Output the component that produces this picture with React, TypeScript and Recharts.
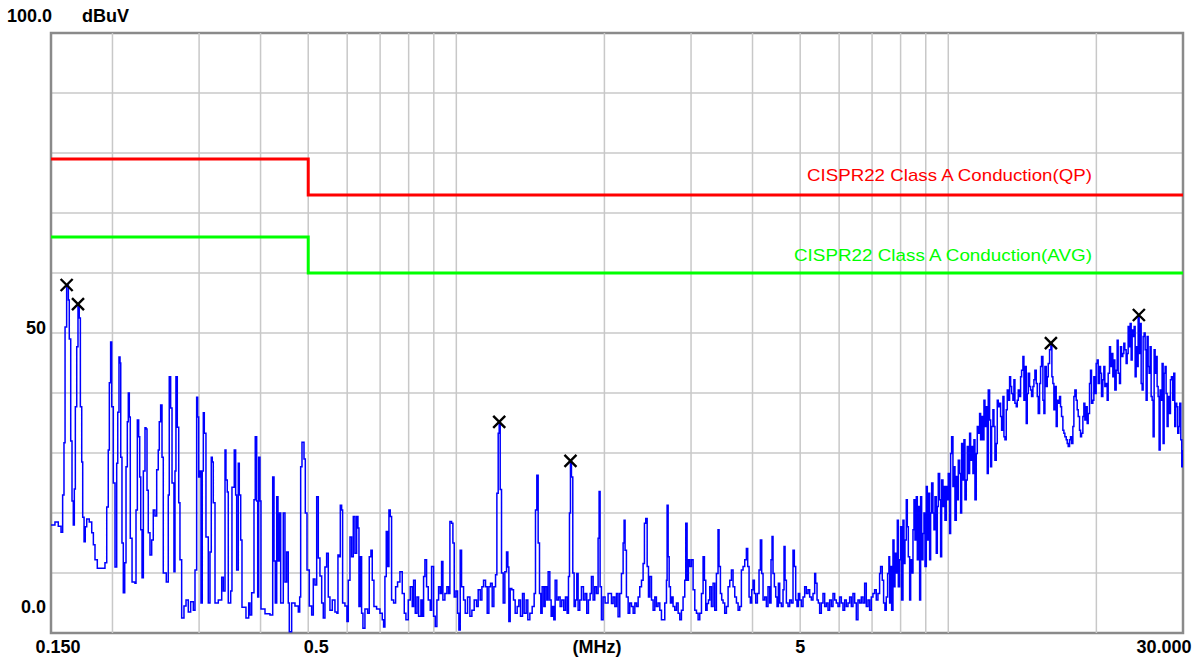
import React from 'react';
import { ComposedChart, Line, XAxis, YAxis, CartesianGrid, ReferenceLine, ReferenceArea } from 'recharts';

type Pt = [number, number];

// measured spectrum, frequency in MHz / level in dBuV
const traceA: Pt[] = [
  [0.1500, 18.0], [0.1528, 18.5], [0.1552, 17.8], [0.1572, 16.8], [0.1584, 23.0], [0.1594, 31.7], [0.1602, 51.0], [0.1614, 58.0],
  [0.1627, 55.5], [0.1634, 49.0], [0.1645, 32.0], [0.1655, 22.0], [0.1665, 18.0], [0.1673, 24.0], [0.1681, 37.7], [0.1692, 47.7],
  [0.1702, 54.8], [0.1712, 52.5], [0.1721, 37.7], [0.1732, 28.5], [0.1740, 19.3], [0.1751, 15.2], [0.1761, 17.7], [0.1773, 19.0],
  [0.1794, 18.5], [0.1815, 16.7], [0.1829, 14.7], [0.1843, 12.2], [0.1863, 10.8], [0.1911, 10.8], [0.1931, 11.7], [0.1947, 21.0],
  [0.1961, 30.5], [0.1971, 41.7], [0.1983, 48.5], [0.1993, 37.7], [0.2008, 25.0], [0.2024, 11.0], [0.2040, 28.3], [0.2050, 36.8],
  [0.2062, 46.0], [0.2072, 45.0], [0.2079, 29.3], [0.2091, 15.0], [0.2104, 6.7], [0.2118, 11.7], [0.2131, 27.7], [0.2144, 35.2],
  [0.2154, 40.0], [0.2164, 36.0], [0.2174, 15.8], [0.2192, 8.5], [0.2222, 8.3], [0.2233, 20.5], [0.2247, 35.5], [0.2261, 32.7],
  [0.2272, 26.0], [0.2283, 17.2], [0.2297, 9.2], [0.2311, 27.0], [0.2329, 34.2], [0.2340, 34.0], [0.2351, 23.8], [0.2365, 16.7],
  [0.2384, 13.0], [0.2403, 15.5], [0.2421, 20.5], [0.2440, 19.5], [0.2460, 27.2], [0.2478, 30.5], [0.2490, 35.2], [0.2506, 38.0],
  [0.2522, 29.3], [0.2537, 10.0], [0.2573, 8.5], [0.2597, 23.0], [0.2609, 42.7], [0.2626, 37.5], [0.2643, 25.0], [0.2667, 10.2],
  [0.2680, 27.0], [0.2692, 42.7], [0.2709, 34.3], [0.2727, 21.7], [0.2743, 12.2], [0.2765, 2.5], [0.2795, 4.5], [0.2822, 5.5],
  [0.2852, 3.5], [0.2884, 5.2], [0.2920, 3.8], [0.2943, 10.5], [0.2966, 39.3], [0.2980, 36.0], [0.2994, 26.0], [0.3012, 27.0],
  [0.3027, 5.0], [0.3045, 27.0], [0.3060, 36.7], [0.3074, 33.3], [0.3098, 16.0], [0.3132, 5.0], [0.3157, 13.5], [0.3176, 29.3],
  [0.3191, 28.5], [0.3206, 21.7], [0.3232, 5.0], [0.3282, 5.5], [0.3335, 9.3], [0.3360, 7.0], [0.3387, 30.5], [0.3402, 25.5],
  [0.3423, 23.5], [0.3439, 5.0], [0.3478, 7.0], [0.3499, 24.3], [0.3537, 30.5], [0.3560, 23.0], [0.3577, 10.5], [0.3604, 28.3],
  [0.3621, 23.0], [0.3645, 15.5], [0.3667, 4.3], [0.3736, 2.5], [0.3784, 5.0], [0.3807, 3.0], [0.3837, 6.7], [0.3879, 22.2],
  [0.3902, 32.7], [0.3928, 22.0], [0.3947, 6.0], [0.3965, 29.3], [0.3989, 22.0], [0.4008, 4.0], [0.4084, 3.2], [0.4180, 3.0],
  [0.4234, 26.0], [0.4260, 12.0], [0.4285, 5.0], [0.4314, 22.7], [0.4340, 12.0], [0.4367, 20.0], [0.4395, 5.0], [0.4449, 20.0],
  [0.4484, 8.5], [0.4520, 13.5], [0.4554, 5.0], [0.4576, 0.2], [0.4627, 5.0], [0.4699, 4.5], [0.4773, 3.5], [0.4804, 6.0],
  [0.4826, 27.7], [0.4856, 31.8], [0.4902, 29.0], [0.4932, 20.0], [0.4971, 10.5], [0.5025, 4.5], [0.5081, 3.0], [0.5120, 9.0],
  [0.5160, 8.0], [0.5202, 22.7], [0.5241, 12.5], [0.5282, 9.5], [0.5325, 5.0], [0.5365, 2.5],
];

const traceB: Pt[] = [
  [0.5407, 11.0], [0.5450, 13.3], [0.5492, 6.0], [0.5535, 3.8], [0.5596, 5.5], [0.5666, 3.5], [0.5719, 3.3], [0.5746, 13.0],
  [0.5782, 12.7], [0.5810, 21.3], [0.5846, 20.5], [0.5873, 5.0], [0.5937, 4.5], [0.5993, 1.9], [0.6031, 8.8], [0.6079, 16.0],
  [0.6126, 12.7], [0.6174, 19.4], [0.6222, 13.3], [0.6271, 19.4], [0.6310, 17.5], [0.6340, 4.4], [0.6379, 12.7], [0.6419, 3.3],
  [0.6459, 0.8], [0.6520, 4.0], [0.6602, 3.3], [0.6653, 12.7], [0.6705, 13.8], [0.6747, 8.8], [0.6800, 4.4], [0.6886, 4.0],
  [0.6994, 3.3], [0.7071, 2.2], [0.7115, 1.0], [0.7159, 9.4], [0.7204, 16.9], [0.7249, 11.1], [0.7295, 20.5], [0.7340, 19.4],
  [0.7386, 5.5], [0.7456, 5.0], [0.7526, 7.7], [0.7596, 8.5], [0.7680, 10.2], [0.7764, 6.6], [0.7838, 3.3], [0.7899, 2.2],
  [0.7985, 5.5], [0.8061, 7.7], [0.8136, 4.4], [0.8187, 8.8], [0.8251, 3.3], [0.8316, 6.0], [0.8381, 2.8], [0.8473, 5.5],
  [0.8526, 2.8], [0.8579, 9.4], [0.8633, 12.2], [0.8700, 7.7], [0.8768, 5.5], [0.8851, 3.8], [0.8906, 11.1], [0.8990, 2.8],
  [0.9060, 1.1], [0.9131, 5.5], [0.9203, 7.7], [0.9275, 6.6], [0.9333, 11.9], [0.9391, 5.5], [0.9479, 6.6], [0.9568, 7.7],
  [0.9643, 6.6], [0.9704, 18.6], [0.9780, 18.3], [0.9841, 15.0], [0.9902, 6.0], [0.9980, 7.0], [1.0058, 3.3], [1.0121, 0.5],
  [1.0184, 13.8], [1.0248, 7.7], [1.0345, 5.5], [1.0425, 3.3], [1.0539, 6.0], [1.0655, 2.8], [1.0755, 3.8], [1.0873, 5.5],
  [1.0993, 4.4], [1.1078, 7.2], [1.1183, 5.5], [1.1271, 7.7], [1.1359, 8.8], [1.1465, 7.7], [1.1555, 3.3], [1.1645, 7.7],
  [1.1736, 8.3], [1.1828, 4.4], [1.1921, 7.7], [1.2015, 9.7], [1.2090, 23.3], [1.2165, 33.3], [1.2222, 35.2], [1.2280, 23.9],
  [1.2356, 10.0], [1.2453, 5.0], [1.2550, 10.2], [1.2649, 13.5], [1.2728, 11.0], [1.2787, 1.9], [1.2867, 7.4], [1.2967, 7.2],
  [1.3069, 5.5], [1.3171, 3.3], [1.3295, 4.4], [1.3399, 5.5], [1.3504, 2.8], [1.3631, 6.6], [1.3737, 3.3], [1.3867, 5.5],
  [1.3975, 2.2], [1.4107, 3.3], [1.4262, 4.4], [1.4395, 6.6], [1.4485, 20.5], [1.4576, 26.3], [1.4667, 15.0], [1.4759, 6.6],
  [1.4851, 3.3], [1.4944, 7.7], [1.5061, 4.4], [1.5155, 7.7], [1.5274, 5.5], [1.5369, 10.2], [1.5490, 5.5], [1.5586, 2.8],
  [1.5684, 4.4], [1.5782, 2.2], [1.5881, 8.8], [1.6005, 5.5], [1.6129, 6.0], [1.6256, 4.4], [1.6383, 5.5], [1.6536, 3.8],
  [1.6666, 6.0], [1.6797, 3.3], [1.6902, 9.4], [1.6982, 20.0], [1.7061, 28.7], [1.7140, 26.0], [1.7248, 10.0], [1.7356, 4.4],
  [1.7465, 5.5], [1.7574, 9.9], [1.7683, 3.8], [1.7822, 5.5], [1.7961, 7.7], [1.8130, 5.5], [1.8272, 6.6], [1.8415, 3.3],
  [1.8559, 5.5], [1.8705, 6.6], [1.8821, 9.4], [1.8969, 5.5], [1.9117, 7.7], [1.9267, 6.6], [1.9417, 15.8], [1.9509, 23.6],
  [1.9600, 7.7], [1.9722, 2.2], [1.9877, 6.0], [2.0063, 5.0], [2.0346, 6.6],
];

const traceC: Pt[] = [
  [2.051, 6.6], [2.067, 4.9], [2.083, 6.0], [2.100, 4.4], [2.116, 6.6], [2.132, 2.7], [2.149, 6.6], [2.166, 9.9],
  [2.183, 15.0], [2.193, 18.8], [2.203, 13.8], [2.217, 6.0], [2.235, 3.3], [2.252, 5.0], [2.270, 4.4], [2.288, 3.3],
  [2.306, 5.0], [2.324, 4.4], [2.342, 6.0], [2.360, 7.7], [2.379, 8.8], [2.397, 11.6], [2.412, 18.3], [2.427, 19.1],
  [2.443, 11.1], [2.458, 6.0], [2.473, 9.4], [2.493, 5.5], [2.512, 3.8], [2.532, 6.0], [2.551, 4.4], [2.571, 5.0],
  [2.592, 3.8], [2.612, 2.2], [2.632, 2.2], [2.653, 5.0], [2.674, 8.8], [2.682, 21.3], [2.695, 12.7], [2.708, 7.7],
  [2.724, 5.0], [2.741, 6.0], [2.758, 4.4], [2.780, 3.8], [2.802, 5.0], [2.824, 3.3], [2.846, 2.2], [2.868, 3.8],
  [2.890, 6.0], [2.913, 8.8], [2.927, 18.3], [2.945, 8.8], [2.963, 12.2], [2.982, 11.1], [3.005, 12.2], [3.029, 7.2],
  [3.053, 3.8], [3.077, 3.3], [3.101, 2.2], [3.125, 3.3], [3.150, 6.6], [3.174, 12.7], [3.194, 8.8], [3.214, 3.8],
  [3.234, 4.9], [3.255, 5.5], [3.275, 7.7], [3.300, 4.4], [3.326, 8.3], [3.352, 3.8], [3.378, 9.9], [3.404, 17.2],
  [3.420, 11.1], [3.442, 6.6], [3.463, 5.5], [3.485, 5.0], [3.512, 3.3], [3.540, 4.4], [3.568, 7.7], [3.596, 8.8],
  [3.624, 10.5], [3.652, 7.7], [3.681, 6.0], [3.710, 5.0], [3.739, 3.8], [3.768, 4.4], [3.797, 10.5], [3.827, 11.1],
  [3.857, 12.2], [3.887, 14.1], [3.911, 11.1], [3.936, 6.0], [3.960, 5.0], [3.985, 7.2], [4.010, 8.8], [4.035, 6.6],
  [4.060, 5.0], [4.092, 6.6], [4.124, 10.5], [4.150, 15.5], [4.176, 9.9], [4.202, 5.5], [4.235, 6.0], [4.268, 4.4],
  [4.301, 7.7], [4.335, 5.0], [4.362, 12.2], [4.383, 16.1], [4.403, 9.9], [4.431, 7.7], [4.459, 6.0], [4.487, 4.4],
  [4.515, 8.3], [4.543, 5.0], [4.578, 4.4], [4.614, 7.2], [4.636, 14.4], [4.658, 8.8], [4.687, 5.0], [4.723, 4.4],
  [4.760, 5.5], [4.797, 5.0], [4.835, 13.8], [4.865, 11.1], [4.896, 5.5], [4.926, 4.4], [4.957, 6.6], [4.988, 5.5],
  [5.027, 4.4], [5.067, 6.0], [5.106, 7.7], [5.146, 6.6], [5.187, 7.2], [5.227, 6.0], [5.268, 5.5], [5.309, 6.6],
  [5.351, 9.9], [5.376, 8.3], [5.410, 5.5], [5.443, 5.0], [5.477, 3.3], [5.520, 5.0], [5.563, 6.6], [5.607, 4.4],
  [5.651, 5.0], [5.695, 3.8], [5.739, 5.5], [5.785, 4.4], [5.830, 6.6], [5.876, 5.5], [5.921, 5.0], [5.968, 4.4],
  [6.014, 6.0], [6.062, 5.0], [6.109, 3.8], [6.157, 5.5], [6.205, 4.4], [6.254, 5.0], [6.302, 6.0], [6.352, 4.4],
  [6.401, 6.6], [6.452, 5.0], [6.502, 2.2], [6.553, 5.5], [6.604, 5.0], [6.656, 6.0], [6.708, 5.0], [6.761, 8.3],
  [6.813, 4.4], [6.867, 5.5], [6.920, 3.8], [6.975, 6.0], [7.029, 6.6], [7.084, 7.2], [7.139, 5.5], [7.195, 6.6],
  [7.251, 9.9], [7.285, 11.1], [7.342, 8.8], [7.388, 5.0], [7.435, 3.8], [7.481, 6.0], [7.528, 9.9], [7.574, 12.7],
];

const traceD: Pt[] = [
  [7.600, 5.0], [7.636, 11.1], [7.671, 3.8], [7.719, 15.5], [7.756, 7.7], [7.792, 13.3], [7.841, 10.0], [7.878, 18.8],
  [7.915, 7.7], [7.964, 12.2], [8.002, 17.7], [8.039, 5.5], [8.089, 18.8], [8.127, 11.6], [8.165, 15.5], [8.216, 22.2],
  [8.255, 17.7], [8.294, 12.7], [8.346, 5.5], [8.385, 12.2], [8.425, 10.0], [8.477, 17.2], [8.517, 22.2], [8.557, 15.5],
  [8.610, 22.7], [8.651, 12.2], [8.691, 21.1], [8.745, 5.5], [8.786, 22.7], [8.828, 12.2], [8.883, 16.6], [8.925, 20.0],
  [8.967, 11.1], [9.023, 24.4], [9.065, 15.5], [9.108, 23.3], [9.164, 12.2], [9.207, 20.0], [9.251, 25.0], [9.308, 20.0],
  [9.352, 17.2], [9.396, 22.7], [9.454, 13.3], [9.499, 21.1], [9.543, 26.6], [9.603, 22.2], [9.648, 12.7], [9.694, 25.5],
  [9.754, 21.1], [9.800, 24.4], [9.846, 18.8], [9.907, 24.4], [9.954, 22.2], [10.000, 26.6], [10.063, 16.6], [10.110, 29.9],
  [10.158, 32.7], [10.221, 24.4], [10.269, 27.7], [10.318, 18.8], [10.382, 26.1], [10.431, 22.2], [10.480, 28.8], [10.545, 26.6],
  [10.595, 20.0], [10.645, 31.6], [10.711, 25.5], [10.761, 32.2], [10.812, 22.2], [10.879, 25.5], [10.930, 31.1], [10.981, 26.6],
  [11.050, 33.3], [11.102, 28.8], [11.154, 31.1], [11.224, 26.6], [11.277, 32.2], [11.330, 22.2], [11.400, 29.9], [11.454, 34.4],
  [11.508, 33.3], [11.579, 36.6], [11.634, 32.2], [11.688, 36.1], [11.761, 32.2], [11.817, 38.8], [11.872, 34.4], [11.946, 37.7],
  [12.002, 26.6], [12.058, 40.5], [12.134, 35.5], [12.191, 27.7], [12.248, 34.4], [12.324, 37.2], [12.382, 34.4], [12.440, 28.8],
  [12.518, 31.6], [12.577, 38.8], [12.636, 37.7], [12.715, 38.3], [12.775, 36.1], [12.835, 33.8], [12.915, 39.4], [12.976, 32.7],
  [13.037, 32.2], [13.118, 37.2], [13.180, 40.5], [13.242, 38.8], [13.324, 42.7], [13.387, 41.1], [13.449, 39.9], [13.533, 38.8],
  [13.597, 42.2], [13.661, 38.3], [13.746, 37.7], [13.811, 38.8], [13.876, 40.5], [13.962, 39.4], [14.028, 42.7], [14.094, 43.8],
  [14.181, 46.1], [14.248, 38.8], [14.315, 44.4], [14.404, 34.9], [14.472, 39.9], [14.540, 43.3], [14.630, 41.1], [14.699, 40.5],
  [14.768, 39.4], [14.860, 41.1], [14.930, 42.2], [15.000, 43.8], [15.094, 41.6], [15.165, 39.4], [15.236, 36.6], [15.331, 41.6],
  [15.403, 44.4], [15.475, 46.1], [15.572, 38.8], [15.645, 36.6], [15.718, 44.4], [15.816, 41.1], [15.891, 42.7], [15.966, 44.9],
  [16.065, 47.2], [16.166, 48.3], [16.241, 42.7], [16.317, 41.6], [16.394, 37.2], [16.470, 41.1], [16.573, 34.4], [16.651, 38.8],
  [16.729, 38.3], [16.834, 39.4], [16.913, 37.7], [16.992, 36.1], [17.098, 33.8], [17.179, 33.3], [17.259, 32.7], [17.367, 32.2],
  [17.449, 31.6], [17.531, 31.1], [17.640, 32.2], [17.723, 32.7], [17.806, 31.6], [17.917, 34.4], [18.001, 39.4], [18.086, 40.5],
  [18.198, 38.8], [18.284, 37.2], [18.370, 36.1], [18.484, 33.8], [18.571, 32.7], [18.658, 33.3], [18.774, 36.1], [18.863, 38.3],
  [18.951, 35.5], [19.069, 37.7], [19.159, 34.9], [19.249, 36.6], [19.369, 41.6], [19.460, 43.8], [19.551, 38.3], [19.673, 38.8],
  [19.766, 42.7], [19.859, 39.9], [19.983, 44.9], [20.077, 45.5], [20.171, 41.6], [20.297, 44.4], [20.392, 43.3], [20.488, 39.4],
  [20.615, 42.2], [20.712, 44.4], [20.809, 41.1], [20.939, 41.6], [21.038, 38.8], [21.137, 43.3], [21.268, 47.7], [21.368, 44.4],
  [21.468, 46.6], [21.602, 42.7], [21.704, 45.5], [21.805, 40.5], [21.941, 43.8], [22.045, 48.8], [22.148, 43.3], [22.286, 41.6],
  [22.391, 47.7], [22.496, 46.1], [22.636, 46.6], [22.743, 48.3], [22.849, 47.2], [22.991, 44.9], [23.100, 46.6], [23.208, 51.1],
  [23.317, 47.7], [23.426, 51.6], [23.537, 45.5], [23.647, 50.5], [23.757, 49.4], [23.869, 51.1], [23.980, 42.7], [24.092, 47.7],
  [24.205, 44.4], [24.319, 52.8], [24.432, 46.6], [24.547, 51.6], [24.663, 41.6], [24.778, 40.5], [24.894, 49.4], [25.011, 50.0],
  [25.129, 47.2], [25.246, 38.8], [25.365, 49.4], [25.484, 44.4], [25.602, 43.3], [25.723, 47.7], [25.844, 39.4], [25.965, 38.8],
  [26.086, 32.7], [26.209, 47.2], [26.331, 43.3], [26.454, 46.1], [26.579, 41.1], [26.703, 39.4], [26.828, 30.5], [26.954, 40.5],
  [27.081, 38.8], [27.207, 44.9], [27.335, 31.6], [27.463, 43.3], [27.592, 44.4], [27.720, 39.9], [27.851, 34.4], [27.982, 39.4],
  [28.156, 36.6], [28.289, 42.2], [28.421, 42.7], [28.598, 38.8], [28.733, 43.3], [28.868, 34.4], [29.002, 38.3], [29.138, 37.7],
  [29.275, 33.3], [29.412, 34.4], [29.550, 38.3], [29.689, 32.2], [29.828, 27.7], [29.967, 28.8], [30.000, 30.5],
];

const qpLimit: Pt[] = [[0.15, 79], [0.5, 79], [0.5, 73], [30, 73]];
const avgLimit: Pt[] = [[0.15, 66], [0.5, 66], [0.5, 60], [30, 60]];
const peaks: Pt[] = [[0.1614, 58.0], [0.1702, 54.8], [1.2222, 35.2], [1.7061, 28.7], [16.166, 48.3], [24.40, 53.0]];

const xTicks = [0.15, 0.5, 5, 30];
const xTickLabels = ['0.150', '0.5', '5', '30.000'];
const yTicks = [0, 10, 20, 30, 40, 50, 60, 70, 80, 90, 100];
const gridFreqs = [0.2, 0.3, 0.4, 0.5, 0.6, 0.7, 0.8, 0.9, 1, 2, 3, 4, 5, 6, 7, 8, 9, 10, 20];

const toRows = (pts: Pt[]) => pts.map(([f, v]) => ({ f, v }));

const traceRows = toRows([...traceA, ...traceB, ...traceC, ...traceD]);

const font = '"Liberation Sans", Arial, sans-serif';
const GRID = '#c8c8c8';

const xShift = [7, 8, 0, -19];

function XTick(props: any) {
  const { x, payload } = props;
  const i = xTicks.indexOf(payload.value);
  if (i < 0) return <g />;
  return (
    <text x={x + xShift[i]} y={647} textAnchor="middle" dominantBaseline="central"
      fontFamily={font} fontWeight={700} fontSize={18} fill="#000">
      {xTickLabels[i]}
    </text>
  );
}

function YTick(props: any) {
  const { y, payload } = props;
  const v = payload.value;
  const common = { fontFamily: font, fontWeight: 700, fontSize: 18, fill: '#000', dominantBaseline: 'central' as const };
  if (v === 100) return <text x={7} y={y - 17} {...common}>100.0</text>;
  if (v === 50) return <text x={46} y={y - 5} textAnchor="end" {...common}>50</text>;
  if (v === 0) return <text x={46} y={y - 26} textAnchor="end" {...common}>0.0</text>;
  return <g />;
}

function PeakMark(props: any) {
  const { cx, cy, index } = props;
  if (cx == null || cy == null) return <g key={`pk${index}`} />;
  const s = 6;
  return (
    <path key={`pk${index}`} d={`M${cx - s},${cy - s}L${cx + s},${cy + s}M${cx + s},${cy - s}L${cx - s},${cy + s}`}
      stroke="#000" strokeWidth={2.4} fill="none" />
  );
}

export default function App() {
  return (
    <div style={{ position: 'relative', width: 1203, height: 662, background: '#fff' }}>
      <style>{'body{margin:0;background:#fff}'}</style>
      <ComposedChart width={1203} height={662} margin={{ top: 33, right: 20, bottom: 0, left: 0 }}>
        <CartesianGrid vertical={false} stroke={GRID} strokeWidth={1.5} />
        {gridFreqs.map((g) => (
          <ReferenceLine key={g} x={g} stroke={GRID} strokeWidth={1.5} />
        ))}
        <XAxis type="number" dataKey="f" scale="log" domain={[0.15, 30]} allowDataOverflow ticks={xTicks}
          interval={0} tick={<XTick />} tickLine={false} axisLine={false} height={29} />
        <YAxis type="number" domain={[0, 100]} ticks={yTicks} interval={0} tick={<YTick />}
          tickLine={false} axisLine={false} width={51} />
        <Line data={toRows(qpLimit)} dataKey="v" stroke="#ff0000" strokeWidth={3} dot={false} activeDot={false}
          isAnimationActive={false} />
        <Line data={toRows(avgLimit)} dataKey="v" stroke="#00ff00" strokeWidth={3} dot={false} activeDot={false}
          isAnimationActive={false} />
        <Line data={traceRows} dataKey="v" type="stepAfter" stroke="#0000ff" strokeWidth={1.5} dot={false}
          activeDot={false} isAnimationActive={false} />
        <Line data={toRows(peaks)} dataKey="v" stroke="none" dot={<PeakMark />} activeDot={false}
          isAnimationActive={false} />
        <ReferenceArea x1={0.15} x2={30} y1={0} y2={100} fill="none" fillOpacity={0} stroke="#8a8a8a" strokeWidth={2.5} />
      </ComposedChart>
      <svg width={1203} height={662} style={{ position: 'absolute', left: 0, top: 0, pointerEvents: 'none' }}>
        <text x={82} y={16} dominantBaseline="central" fontFamily={font} fontWeight={700} fontSize={18}>dBuV</text>
        <text x={597} y={647} textAnchor="middle" dominantBaseline="central" fontFamily={font} fontWeight={700} fontSize={18}>(MHz)</text>
        <text x={1092} y={175} textAnchor="end" dominantBaseline="central" fontFamily={font} fontSize={17}
          fill="#ff0000" textLength={285} lengthAdjust="spacingAndGlyphs">CISPR22 Class A Conduction(QP)</text>
        <text x={1092} y={255} textAnchor="end" dominantBaseline="central" fontFamily={font} fontSize={17}
          fill="#00ff00" textLength={298} lengthAdjust="spacingAndGlyphs">CISPR22 Class A Conduction(AVG)</text>
      </svg>
    </div>
  );
}
